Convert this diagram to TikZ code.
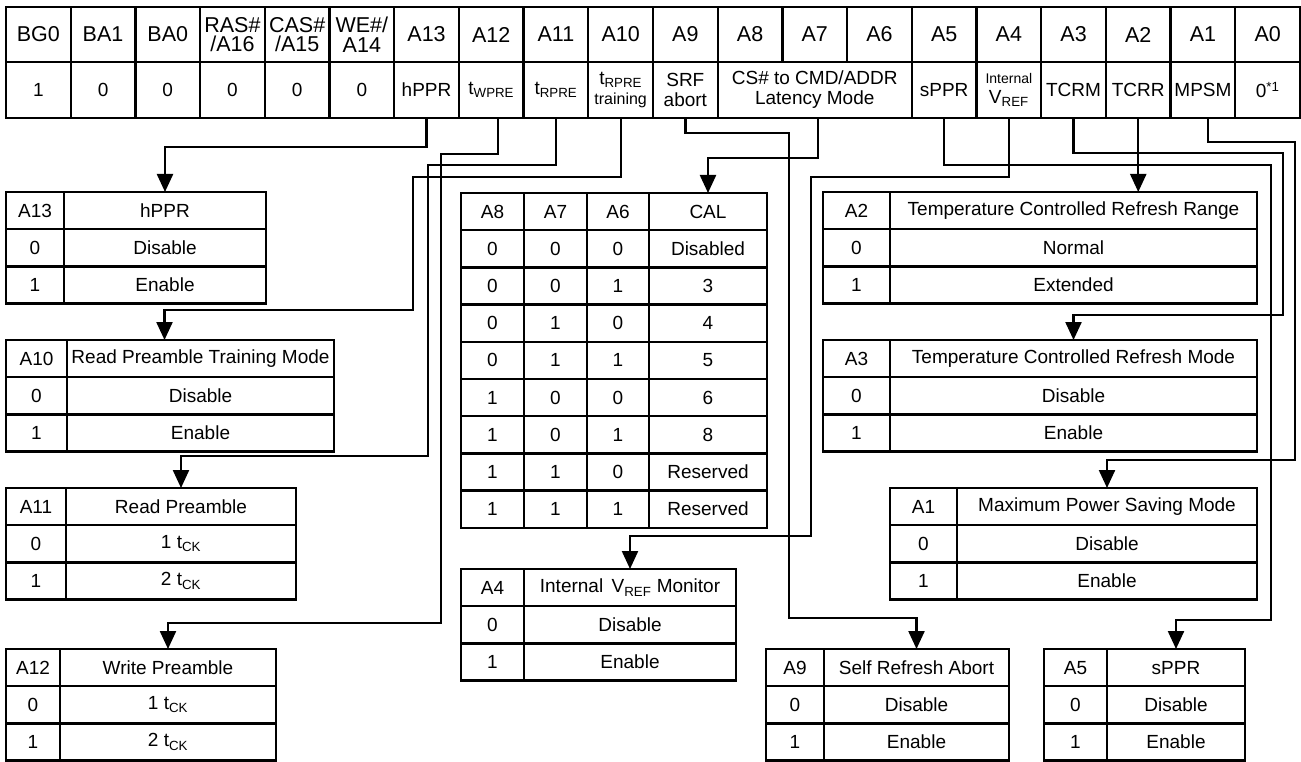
\documentclass[tikz,border=0pt]{standalone}
\usepackage{fontspec}
\setmainfont{Liberation Sans}
\usetikzlibrary{arrows.meta, positioning}

\begin{document}
\begin{tikzpicture}[x=1pt, y=-1pt,
        every node/.style={font=\fontsize{19}{20}\selectfont},
        cell/.style={draw, line width=2.3pt, anchor=north west, inner sep=0pt, outer sep=0pt, minimum height=37.2pt, align=center},
        hcell/.style={cell, minimum width=64.7pt, minimum height=55pt, font=\fontsize{21.5}{19.5}\selectfont},
        vcell/.style={cell, minimum width=64.7pt, minimum height=56pt},
        conn/.style={line width=2.3pt, -{Triangle[width=16pt, length=18pt]}}]
        \useasboundingbox (0,0) rectangle (1301,762);

        % mode register bits
        \foreach \t [count=\i from 0] in {BG0, BA1, BA0, {RAS\#\\/A16}, {CAS\#\\/A15}, {WE\#/\\A14}, A13, A12, A11, A10, A9, A8, A7, A6, A5, A4, A3, A2, A1, A0}
            \node[hcell] (h\i) at ({6+64.7*\i},7) {\t};
        \foreach \t [count=\i from 0] in {1, 0, 0, 0, 0, 0, hPPR, t\textsubscript{WPRE}, t\textsubscript{RPRE}, {t\textsubscript{RPRE}\\{\fontsize{16}{16}\selectfont training}}, {SRF\\abort}}
            \node[vcell] (v\i) at ({6+64.7*\i},62) {\t};
        \node[vcell, minimum width=194.1pt] (v11) at (717.7,62) {CS\# to CMD/ADDR\\Latency Mode};
        \foreach \t [count=\i from 14] in {sPPR, {{\fontsize{14}{15}\selectfont Internal}\\V\textsubscript{REF}}, TCRM, TCRR, MPSM, 0\textsuperscript{*1}}
            \node[vcell] (v\i) at ({6+64.7*\i},62) {\t};

        % left column
        \foreach \k/\d [count=\r from 0] in {A13/hPPR, 0/Disable, 1/Enable} {
            \node[cell, minimum width=58pt] (a13k\r) at (6,{192+37.2*\r}) {\k};
            \node[cell, minimum width=202pt] (a13d\r) at (64,{192+37.2*\r}) {\d};
        }
        \foreach \k/\d [count=\r from 0] in {A10/Read Preamble Training Mode, 0/Disable, 1/Enable} {
            \node[cell, minimum width=61pt] (a10k\r) at (6,{340+37.2*\r}) {\k};
            \node[cell, minimum width=267pt] (a10d\r) at (67,{340+37.2*\r}) {\d};
        }
        \foreach \k/\d [count=\r from 0] in {A11/Read Preamble, 0/1 t\textsubscript{CK}, 1/2 t\textsubscript{CK}} {
            \node[cell, minimum width=60pt] (a11k\r) at (6,{488+37.2*\r}) {\k};
            \node[cell, minimum width=230pt] (a11d\r) at (66,{488+37.2*\r}) {\d};
        }
        \foreach \k/\d [count=\r from 0] in {A12/Write Preamble, 0/1 t\textsubscript{CK}, 1/2 t\textsubscript{CK}} {
            \node[cell, minimum width=54pt] (a12k\r) at (6,{649+37.2*\r}) {\k};
            \node[cell, minimum width=216pt] (a12d\r) at (60,{649+37.2*\r}) {\d};
        }

        % middle column
        \foreach \a/\b/\c/\d [count=\r from 0] in {A8/A7/A6/CAL, 0/0/0/Disabled, 0/0/1/3, 0/1/0/4, 0/1/1/5, 1/0/0/6, 1/0/1/8, 1/1/0/Reserved, 1/1/1/Reserved} {
            \node[cell, minimum width=63pt] (cala\r) at (461,{193+37.2*\r}) {\a};
            \node[cell, minimum width=63pt] (calb\r) at (524,{193+37.2*\r}) {\b};
            \node[cell, minimum width=62pt] (calc\r) at (587,{193+37.2*\r}) {\c};
            \node[cell, minimum width=118pt] (cald\r) at (649,{193+37.2*\r}) {\d};
        }
        \foreach \k/\d [count=\r from 0] in {A4/Internal\, V\textsubscript{REF} Monitor, 0/Disable, 1/Enable} {
            \node[cell, minimum width=63pt] (a4k\r) at (461,{569+37.2*\r}) {\k};
            \node[cell, minimum width=212pt] (a4d\r) at (524,{569+37.2*\r}) {\d};
        }

        % right column
        \foreach \k/\d [count=\r from 0] in {A2/Temperature Controlled Refresh Range, 0/Normal, 1/Extended} {
            \node[cell, minimum width=67pt] (a2k\r) at (823,{192+37.2*\r}) {\k};
            \node[cell, minimum width=367pt] (a2d\r) at (890,{192+37.2*\r}) {\d};
        }
        \foreach \k/\d [count=\r from 0] in {A3/Temperature Controlled Refresh Mode, 0/Disable, 1/Enable} {
            \node[cell, minimum width=67pt] (a3k\r) at (823,{340+37.2*\r}) {\k};
            \node[cell, minimum width=367pt] (a3d\r) at (890,{340+37.2*\r}) {\d};
        }
        \foreach \k/\d [count=\r from 0] in {A1/Maximum Power Saving Mode, 0/Disable, 1/Enable} {
            \node[cell, minimum width=67pt] (a1k\r) at (890,{488+37.2*\r}) {\k};
            \node[cell, minimum width=300pt] (a1d\r) at (957,{488+37.2*\r}) {\d};
        }
        \foreach \k/\d [count=\r from 0] in {A9/Self Refresh Abort, 0/Disable, 1/Enable} {
            \node[cell, minimum width=58pt] (a9k\r) at (766,{649+37.2*\r}) {\k};
            \node[cell, minimum width=185pt] (a9d\r) at (824,{649+37.2*\r}) {\d};
        }
        \foreach \k/\d [count=\r from 0] in {A5/sPPR, 0/Disable, 1/Enable} {
            \node[cell, minimum width=63pt] (a5k\r) at (1044,{649+37.2*\r}) {\k};
            \node[cell, minimum width=138pt] (a5d\r) at (1107,{649+37.2*\r}) {\d};
        }

        % bit to table
        \draw[conn] (v6.south) -- ++(0,29) -| (a13d0.north);
        \draw[conn] ([xshift=7pt]v7.south) -- ++(0,36) -| (441,623) -| (a12d0.north);
        \draw[conn] (v8.south) -- ++(0,47) -| (428,456) -| (a11d0.north);
        \draw[conn] (v9.south) -- ++(0,59) -| (413,310) -| ([xshift=-36pt]a10d0.north);
        \draw[conn] (v10.south) -- ++(0,15) -| (789,618) -| (a9d0.north);
        \draw[conn] ([xshift=3pt]v11.south) -- ++(0,40) -| (cald0.north);
        \draw[conn] (v14.south) -- ++(0,47) -| (1271,620) -| (a5d0.north);
        \draw[conn] (v15.south) -- ++(0,59) -| (811,536) -| (a4d0.north);
        \draw[conn] (v16.south) -- ++(0,35) -| (1283,315) -| (a3d0.north);
        \draw[conn] (v17.south) -- (v17.south |- a2d0.north);
        \draw[conn] ([xshift=5pt]v18.south) -- ++(0,24) -| (1295,460) -| (a1d0.north);
\end{tikzpicture}
\end{document}
